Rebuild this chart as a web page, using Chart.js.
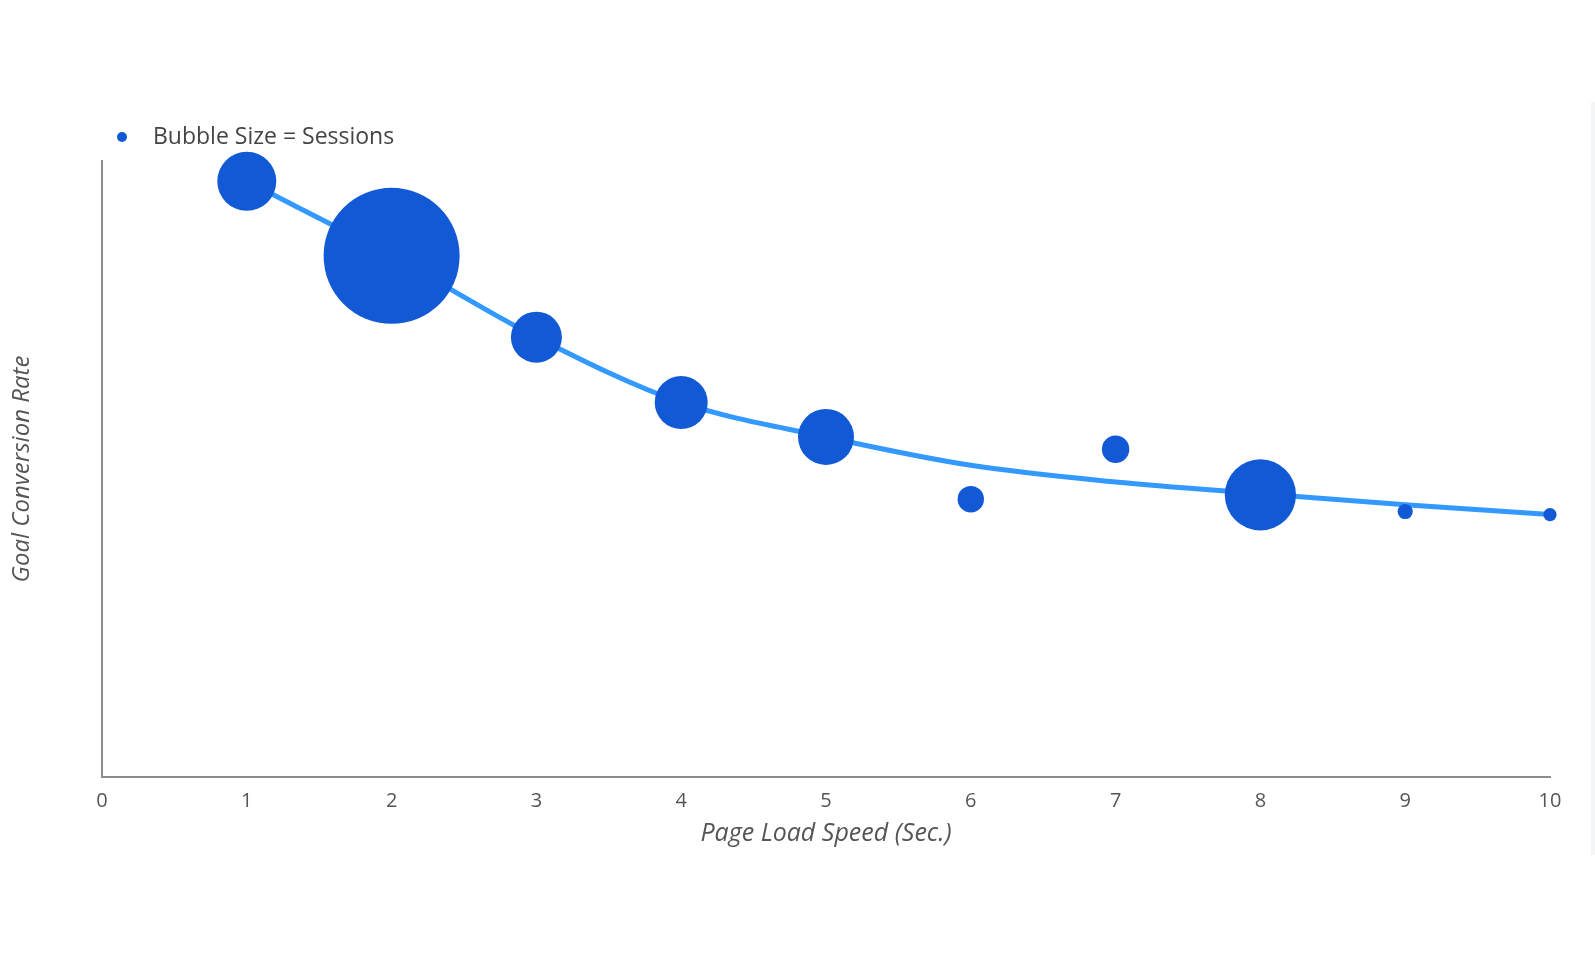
<!DOCTYPE html>
<html>
<head>
<meta charset="utf-8">
<title>Page Load Speed vs Goal Conversion Rate</title>
<script src="https://cdn.jsdelivr.net/npm/chart.js@4.4.1/dist/chart.umd.min.js"></script>
<style>
  html, body { margin: 0; padding: 0; background: #fff; }
  #wrap { position: relative; width: 1595px; height: 959px; }
  #edge { position: absolute; left: 1591px; top: 102px; width: 4px; height: 753px;
          background: #f4f5f9; }
  canvas { position: absolute; left: 0; top: 0; }
</style>
</head>
<body>
<div id="wrap">
  <div id="edge"></div>
  <canvas id="bubbleChart" width="1595" height="959"></canvas>
</div>
<script>
// page load speed in seconds
const loadSpeed = [1, 2, 3, 4, 5, 6, 7, 8, 9, 10];
// goal conversion rate (relative units, axis is unlabelled)
const conversionRate = [9.67, 8.46, 7.14, 6.08, 5.52, 4.51, 5.32, 4.58, 4.31, 4.26];
// bubble radius standing for sessions
const sessionSize = [29.5, 68, 25.5, 26.5, 28, 13.2, 13.7, 35.6, 7.6, 6.6];
// fitted trend curve
const trendRate = [9.67, 8.46, 7.14, 6.08, 5.52, 5.06, 4.79, 4.60, 4.42, 4.26];
const xTicks = [0, 1, 2, 3, 4, 5, 6, 7, 8, 9, 10];

const BUBBLE = '#1259d6';
const TREND = '#3399ff';
const FONT = "'Open Sans', 'Noto Sans', sans-serif";

// small legend drawn above the plot, next to the axis
const legendNote = {
  id: 'legendNote',
  afterDraw(chart) {
    const { ctx, chartArea } = chart;
    const y = chartArea.top - 25;
    ctx.save();
    ctx.fillStyle = BUBBLE;
    ctx.beginPath();
    ctx.arc(chartArea.left + 20, y + 1, 5, 0, Math.PI * 2);
    ctx.fill();
    ctx.fillStyle = '#444';
    ctx.font = '23px ' + FONT;
    ctx.textBaseline = 'middle';
    ctx.fillText('Bubble Size = Sessions', chartArea.left + 51, y + 1);
    ctx.restore();
  }
};

const ctx = document.getElementById('bubbleChart').getContext('2d');
new Chart(ctx, {
  type: 'bubble',
  data: {
    datasets: [{
      label: 'Bubble Size = Sessions',
      data: loadSpeed.map((x, i) => ({ x, y: conversionRate[i], r: sessionSize[i] })),
      backgroundColor: BUBBLE,
      borderWidth: 0,
      clip: false,
      order: 0
    }, {
      type: 'line',
      label: 'Trend',
      data: loadSpeed.map((x, i) => ({ x, y: trendRate[i] })),
      borderColor: TREND,
      borderWidth: 5,
      pointRadius: 0,
      cubicInterpolationMode: 'monotone',
      fill: false,
      clip: false,
      order: 1
    }]
  },
  options: {
    responsive: false,
    animation: false,
    events: [],
    layout: { autoPadding: false, padding: { top: 161, right: 45, bottom: 92, left: 0 } },
    plugins: { legend: { display: false }, tooltip: { enabled: false } },
    scales: {
      x: {
        type: 'linear',
        min: 0,
        max: 10,
        afterBuildTicks: s => { s.ticks = xTicks.map(v => ({ value: v })); },
        afterFit: s => { s.height = 90; },
        grid: { display: false, drawTicks: false },
        border: { display: true, color: '#8c8c8c', width: 2 },
        ticks: { padding: 12, color: '#555', font: { family: FONT, size: 20 } },
        title: {
          display: true,
          text: 'Page Load Speed (Sec.)',
          color: '#555',
          padding: { top: 0, bottom: 18 },
          font: { family: FONT, size: 25, style: 'italic' }
        }
      },
      y: {
        type: 'linear',
        min: 0,
        max: 10,
        afterFit: s => { s.width = 102; },
        grid: { display: false, drawTicks: false },
        border: { display: true, color: '#8c8c8c', width: 2 },
        ticks: { display: false },
        title: {
          display: true,
          text: 'Goal Conversion Rate',
          color: '#555',
          padding: { top: 8, bottom: 0 },
          font: { family: FONT, size: 24, style: 'italic' }
        }
      }
    }
  },
  plugins: [legendNote]
});
</script>
</body>
</html>
